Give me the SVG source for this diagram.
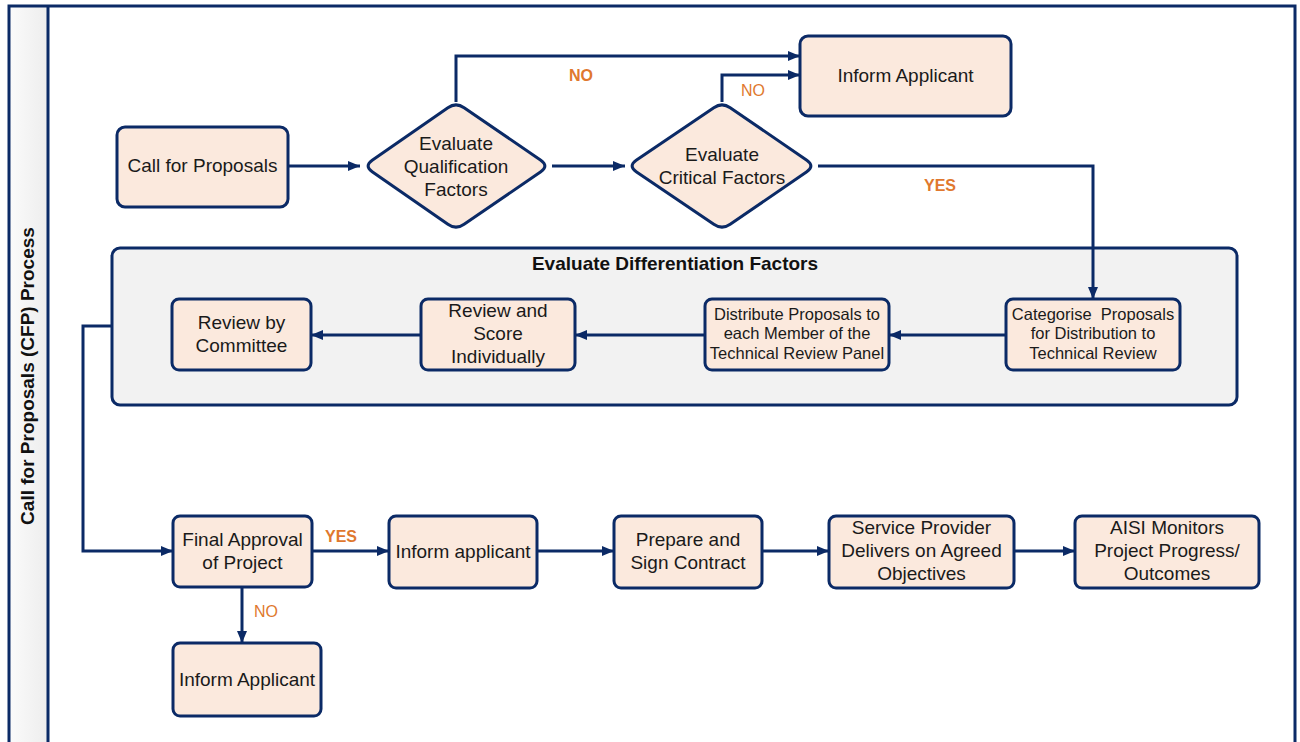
<svg xmlns="http://www.w3.org/2000/svg" width="1300" height="742" viewBox="0 0 1300 742">
<defs>
<linearGradient id="hdr" x1="0" y1="0" x2="1" y2="0">
<stop offset="0" stop-color="#fbfbfb"/>
<stop offset="1" stop-color="#ededed"/>
</linearGradient>
<marker id="arr" markerUnits="userSpaceOnUse" markerWidth="12" markerHeight="10" refX="12" refY="5" orient="auto">
<path d="M0,0 L12,5 L0,10 z" fill="#0b2a66"/>
</marker>
<style>
.node{fill:#fbe9dd;stroke:#0b2a66;stroke-width:3}
.t{font-family:"Liberation Sans",Arial,sans-serif;font-size:19px;fill:#1a1a1a;text-anchor:middle}
.ts{font-family:"Liberation Sans",Arial,sans-serif;font-size:16.5px;fill:#1a1a1a;text-anchor:middle}
.c{fill:none;stroke:#0b2a66;stroke-width:3}
.ca{fill:none;stroke:#0b2a66;stroke-width:3;marker-end:url(#arr)}
.lb{font-family:"Liberation Sans",Arial,sans-serif;font-size:16px;font-weight:bold;fill:#e0782e;text-anchor:middle}
.ln{font-family:"Liberation Sans",Arial,sans-serif;font-size:16px;fill:#e0782e;text-anchor:middle}
</style>
</defs>
<rect x="0" y="0" width="1300" height="742" fill="#ffffff"/>
<g id="lane">
<rect x="9" y="6" width="39" height="740" fill="url(#hdr)"/>
<path d="M9,746 L9,6 L1295,6 L1295,746" fill="none" stroke="#0b2a66" stroke-width="3"/>
<line x1="48" y1="6" x2="48" y2="746" stroke="#0b2a66" stroke-width="3"/>
<text x="0" y="0" transform="translate(34,376) rotate(-90)" style="font-family:'Liberation Sans',Arial,sans-serif;font-size:19px;font-weight:bold;fill:#111;text-anchor:middle">Call for Proposals (CFP) Process</text>
</g>
<g id="group-differentiation">
<rect x="112" y="248" width="1125" height="157" rx="8" fill="#f2f2f2" stroke="#0b2a66" stroke-width="3"/>
<text x="675" y="270" style="font-family:'Liberation Sans',Arial,sans-serif;font-size:19px;font-weight:bold;fill:#111;text-anchor:middle">Evaluate Differentiation Factors</text>
</g>
<g id="connectors">
<line class="ca" x1="288" y1="166" x2="360" y2="166"/>
<line class="ca" x1="552" y1="166" x2="625" y2="166"/>
<polyline class="ca" points="456,102 456,56 800,56"/>
<polyline class="ca" points="722,102 722,75 800,75"/>
<polyline class="ca" points="818,166 1093,166 1093,299"/>
<line class="ca" x1="1006" y1="335" x2="889" y2="335"/>
<line class="ca" x1="705" y1="335" x2="575" y2="335"/>
<line class="ca" x1="421" y1="335" x2="311" y2="335"/>
<polyline class="ca" points="112,326 83,326 83,551 173,551"/>
<line class="ca" x1="312" y1="551" x2="389" y2="551"/>
<line class="ca" x1="537" y1="551" x2="614" y2="551"/>
<line class="ca" x1="762" y1="551" x2="829" y2="551"/>
<line class="ca" x1="1014" y1="551" x2="1075" y2="551"/>
<line class="ca" x1="242" y1="587" x2="242" y2="643"/>
<text class="lb" x="581" y="81">NO</text>
<text class="ln" x="753" y="96">NO</text>
<text class="lb" x="940" y="191">YES</text>
<text class="lb" x="341" y="542">YES</text>
<text class="ln" x="266" y="617">NO</text>
</g>
<g id="call-for-proposals">
<rect class="node" x="117" y="127" width="171" height="80" rx="8"/>
<text class="t" x="202.5" y="172">Call for Proposals</text>
</g>
<g id="evaluate-qualification">
<path class="node" d="M372.2,160.2 L447.9,107.8 Q456,102 464.1,107.8 L540.8,160.2 Q549,166 540.8,171.8 L464.1,224.2 Q456,230 447.9,224.2 L372.2,171.8 Q364,166 372.2,160.2 Z"/>
<text class="t" x="456" y="150">Evaluate</text>
<text class="t" x="456" y="173">Qualification</text>
<text class="t" x="456" y="196">Factors</text>
</g>
<g id="evaluate-critical">
<path class="node" d="M636.2,160.3 L713.8,107.7 Q722,102 730.2,107.7 L806.8,160.3 Q815,166 806.8,171.7 L730.2,224.3 Q722,230 713.8,224.3 L636.2,171.7 Q628,166 636.2,160.3 Z"/>
<text class="t" x="722" y="161">Evaluate</text>
<text class="t" x="722" y="184">Critical Factors</text>
</g>
<g id="inform-applicant-top">
<rect class="node" x="800" y="36" width="211" height="80" rx="8"/>
<text class="t" x="905.5" y="82">Inform Applicant</text>
</g>
<g id="categorise">
<rect class="node" x="1006" y="299" width="174" height="71" rx="7"/>
<text class="ts" x="1093" y="320" xml:space="preserve">Categorise  Proposals</text>
<text class="ts" x="1093" y="339">for Distribution to</text>
<text class="ts" x="1093" y="359">Technical Review</text>
</g>
<g id="distribute">
<rect class="node" x="705" y="299" width="184" height="71" rx="7"/>
<text class="ts" x="797" y="320">Distribute Proposals to</text>
<text class="ts" x="797" y="339">each Member of the</text>
<text class="ts" x="797" y="359">Technical Review Panel</text>
</g>
<g id="review-score">
<rect class="node" x="421" y="299" width="154" height="71" rx="7"/>
<text class="t" x="498" y="317">Review and</text>
<text class="t" x="498" y="340">Score</text>
<text class="t" x="498" y="363">Individually</text>
</g>
<g id="review-committee">
<rect class="node" x="172" y="299" width="139" height="71" rx="7"/>
<text class="t" x="241.5" y="329">Review by</text>
<text class="t" x="241.5" y="352">Committee</text>
</g>
<g id="final-approval">
<rect class="node" x="173" y="516" width="139" height="71" rx="7"/>
<text class="t" x="242.5" y="546">Final Approval</text>
<text class="t" x="242.5" y="569">of Project</text>
</g>
<g id="inform-applicant-yes">
<rect class="node" x="389" y="516" width="148" height="72" rx="7"/>
<text class="t" x="463" y="558">Inform applicant</text>
</g>
<g id="prepare-contract">
<rect class="node" x="614" y="516" width="148" height="72" rx="7"/>
<text class="t" x="688" y="546">Prepare and</text>
<text class="t" x="688" y="569">Sign Contract</text>
</g>
<g id="service-provider">
<rect class="node" x="829" y="516" width="185" height="72" rx="7"/>
<text class="t" x="921.5" y="534">Service Provider</text>
<text class="t" x="921.5" y="557">Delivers on Agreed</text>
<text class="t" x="921.5" y="580">Objectives</text>
</g>
<g id="aisi-monitors">
<rect class="node" x="1075" y="516" width="184" height="72" rx="7"/>
<text class="t" x="1167" y="534">AISI Monitors</text>
<text class="t" x="1167" y="557">Project Progress/</text>
<text class="t" x="1167" y="580">Outcomes</text>
</g>
<g id="inform-applicant-no">
<rect class="node" x="173" y="643" width="148" height="73" rx="7"/>
<text class="t" x="247" y="686">Inform Applicant</text>
</g>
</svg>
